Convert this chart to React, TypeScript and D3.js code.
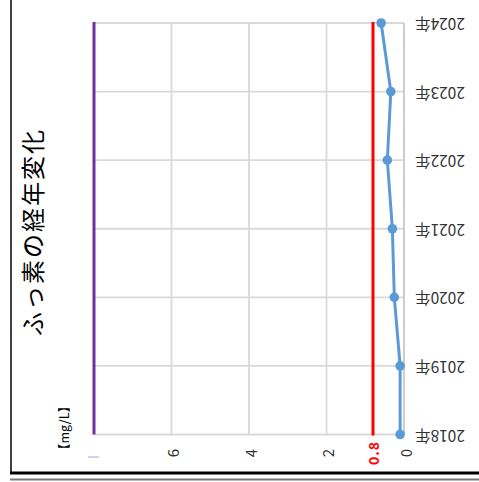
import React from "react";
import * as d3 from "d3";

const years = ["2018年", "2019年", "2020年", "2021年", "2022年", "2023年", "2024年"];
const values = [0.1, 0.1, 0.25, 0.3, 0.43, 0.34, 0.59];
const valueTicks = [0, 2, 4, 6];
const standardValue = 0.8;
const maxValue = 8;
const title = "ふっ素の経年変化";
const unitLabel = "【mg/L】";

export default function App() {
  const W = 479, H = 482;
  const x = d3.scaleLinear().domain([0, maxValue]).range([404, 94]);
  const y = d3.scalePoint<string>().domain(years).range([434.5, 23]);
  const line = d3.line<number>().x((d) => x(d)).y((_, i) => y(years[i])!);
  const yTop = y(years[years.length - 1])!;
  const yBot = y(years[0])!;
  const font = "'Noto Sans CJK JP', 'Noto Sans', sans-serif";
  const labelY = 453;
  return (
    <svg width={W} height={H} style={{ position: "absolute", left: 0, top: 0, background: "#fff" }} fontFamily={font}>
      {/* frame */}
      <line x1={11} x2={11} y1={0} y2={474} stroke="#000" strokeWidth={1.5} />
      <line x1={10} x2={W} y1={473} y2={473} stroke="#000" strokeWidth={3} />
      <line x1={10} x2={W} y1={479.5} y2={479.5} stroke="#777" strokeWidth={2} />
      {/* gridlines: years */}
      {years.map((yr) => (
        <line key={yr} x1={x(maxValue)} x2={x(0)} y1={y(yr)} y2={y(yr)} stroke="#d9d9d9" strokeWidth={1.8} />
      ))}
      {/* gridlines: values */}
      {valueTicks.concat([maxValue]).map((v) => (
        <line key={v} x1={x(v)} x2={x(v)} y1={yTop} y2={yBot} stroke={v === 0 ? "#c8c8c8" : "#d9d9d9"} strokeWidth={1.8} />
      ))}
      {/* purple max line */}
      <line x1={x(maxValue)} x2={x(maxValue)} y1={yTop - 1} y2={yBot} stroke="#7030a0" strokeWidth={3} />
      {/* red standard line */}
      <line x1={x(standardValue)} x2={x(standardValue)} y1={yTop - 1} y2={yBot + 1} stroke="#ff0000" strokeWidth={3} />
      {/* data line */}
      <path d={line(values) || ""} fill="none" stroke="#5b9bd5" strokeWidth={3} />
      {values.map((v, i) => (
        <circle key={i} cx={x(v)} cy={y(years[i])} r={4.8} fill="#5b9bd5" />
      ))}
      {/* year labels rotated 180 */}
      {years.map((yr) => (
        <text key={yr} transform={`translate(440,${y(yr)! + 2}) rotate(180)`} textAnchor="middle" dominantBaseline="central" fontSize={15.5} fill="#333">
          {yr}
        </text>
      ))}
      {/* value labels rotated -90 */}
      {valueTicks.map((v) => (
        <text key={v} transform={`translate(${x(v) + 1},${labelY}) rotate(-90)`} textAnchor="middle" dominantBaseline="central" fontSize={15} fill="#333">
          {v}
        </text>
      ))}
      <text transform={`translate(${x(standardValue)},${labelY}) rotate(-90)`} textAnchor="middle" dominantBaseline="central" fontSize={14} fontWeight="bold" fill="#ff0000" letterSpacing={1}>
        {standardValue.toFixed(1)}
      </text>
      {/* faint max label remnant */}
      <line x1={x(maxValue) - 6} x2={x(maxValue) + 5} y1={457} y2={457} stroke="#b39ddb" strokeWidth={1} />
      {/* title */}
      <text transform="translate(31,232) rotate(-90)" textAnchor="middle" dominantBaseline="central" fontSize={24} fill="#000" letterSpacing={2}>
        {title}
      </text>
      {/* unit */}
      <text transform="translate(63,428) rotate(-90)" textAnchor="middle" dominantBaseline="central" fontSize={12.5} fill="#000">
        {unitLabel}
      </text>
    </svg>
  );
}
